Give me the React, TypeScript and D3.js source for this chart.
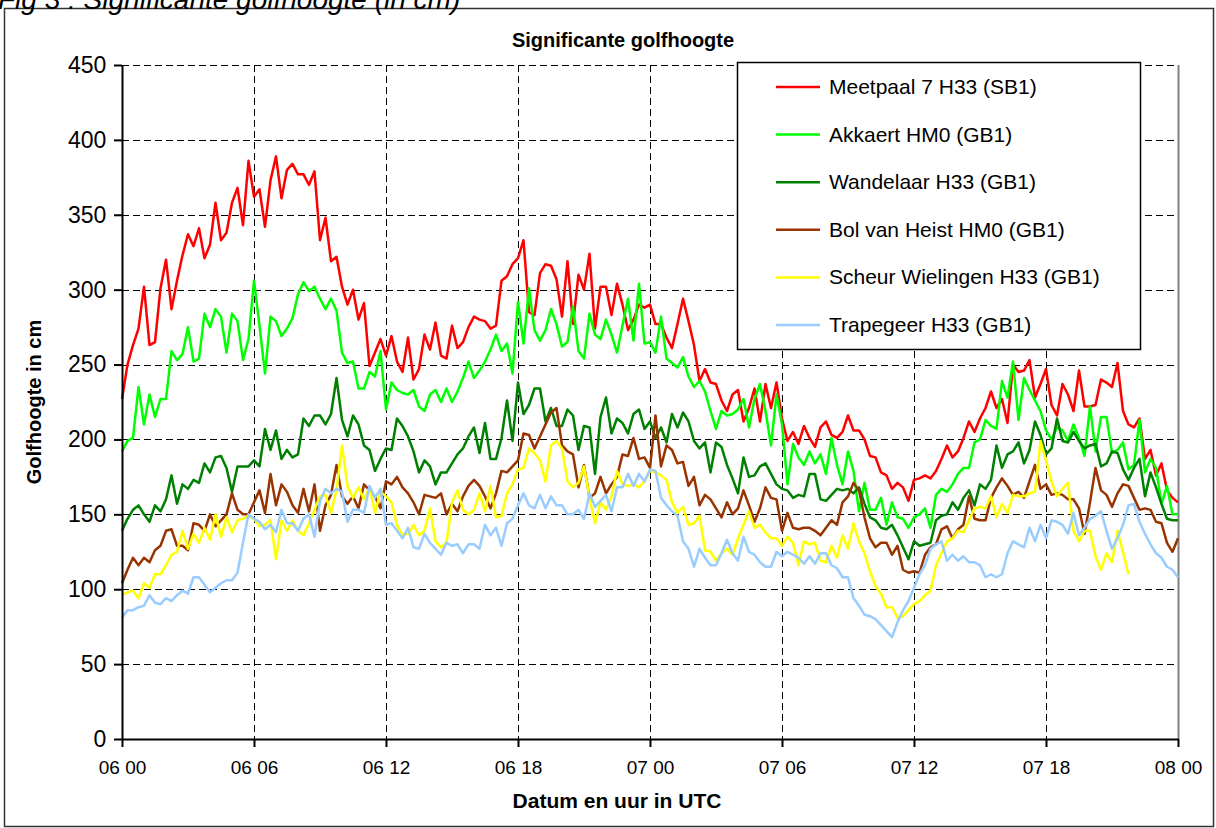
import { useEffect, useRef } from "react";
import * as d3 from "d3";

// quarter-hour samples, 06 00 -> 08 00
const meetpaal = [
  227, 250, 263, 274, 302, 263, 265, 301, 320, 287, 306, 323, 337, 329, 341, 321, 330, 358, 333, 338,
  358, 368, 343, 386, 362, 367, 342, 373, 389, 361, 380, 384, 377, 377, 370, 379, 333, 348, 319, 322,
  302, 290, 300, 280, 291, 249, 258, 267, 256, 269, 252, 245, 268, 240, 247, 270, 260, 278, 256, 254,
  276, 261, 265, 275, 282, 280, 279, 274, 276, 306, 309, 317, 321, 333, 285, 283, 311, 317, 316, 307,
  282, 319, 277, 310, 300, 324, 274, 302, 302, 283, 304, 290, 273, 280, 290, 288, 290, 277, 277, 268,
  261, 277, 294, 279, 263, 239, 247, 238, 237, 226, 219, 230, 233, 212, 221, 234, 212, 237, 221, 238,
  214, 199, 205, 197, 209, 201, 195, 208, 212, 203, 201, 205, 216, 206, 206, 200, 189, 188, 178, 176,
  167, 171, 168, 159, 173, 174, 176, 174, 179, 187, 196, 188, 192, 201, 212, 205, 214, 221, 232, 221,
  227, 211, 250, 245, 246, 253, 228, 237, 247, 223, 216, 237, 230, 219, 246, 222, 222, 223, 240, 238,
  235, 251, 219, 210, 208, 214, 187, 193, 176, 184, 166, 161, 158,
];
const akkaert = [
  192, 199, 201, 235, 210, 230, 215, 227, 227, 259, 253, 257, 275, 252, 254, 284, 275, 287, 282, 258,
  284, 279, 253, 267, 306, 276, 244, 282, 279, 269, 274, 281, 297, 305, 299, 302, 294, 287, 294, 286,
  258, 251, 252, 234, 234, 245, 242, 259, 220, 238, 233, 231, 230, 233, 222, 219, 230, 233, 225, 234,
  225, 232, 241, 252, 241, 246, 252, 260, 270, 259, 264, 244, 292, 264, 301, 273, 266, 273, 287, 277,
  262, 265, 289, 259, 254, 284, 270, 267, 280, 270, 258, 276, 294, 266, 304, 264, 265, 258, 282, 254,
  251, 248, 255, 242, 235, 239, 232, 219, 207, 219, 216, 217, 220, 227, 208, 227, 237, 219, 196, 230,
  210, 170, 197, 188, 183, 192, 184, 190, 177, 201, 183, 170, 192, 179, 152, 171, 153, 153, 161, 143,
  158, 148, 147, 141, 148, 150, 154, 141, 163, 167, 165, 170, 177, 181, 181, 198, 200, 213, 209, 207,
  239, 228, 252, 213, 241, 233, 226, 219, 206, 200, 208, 206, 199, 210, 201, 189, 222, 192, 215, 215,
  191, 193, 198, 180, 183, 213, 178, 187, 181, 157, 169, 150, 150,
];
const wandelaar = [
  139, 147, 153, 156, 150, 145, 156, 152, 160, 176, 157, 170, 167, 173, 171, 184, 178, 188, 189, 181,
  165, 182, 182, 182, 186, 182, 207, 193, 206, 187, 193, 188, 190, 214, 209, 216, 216, 210, 217, 241,
  213, 202, 216, 210, 196, 193, 179, 187, 194, 193, 214, 209, 202, 192, 178, 186, 182, 170, 178, 178,
  184, 190, 194, 202, 208, 191, 211, 187, 187, 201, 226, 199, 238, 217, 223, 234, 234, 212, 221, 209,
  209, 220, 216, 193, 209, 208, 177, 215, 228, 204, 214, 211, 204, 217, 220, 207, 212, 201, 208, 198,
  217, 208, 218, 212, 199, 194, 198, 178, 198, 195, 183, 174, 164, 188, 175, 176, 182, 184, 177, 170,
  167, 166, 161, 163, 162, 177, 177, 160, 159, 163, 167, 166, 167, 164, 168, 157, 148, 146, 141, 140,
  143, 136, 128, 120, 132, 129, 130, 131, 146, 149, 150, 158, 153, 161, 166, 156, 170, 167, 173, 196,
  181, 190, 192, 198, 184, 193, 212, 203, 190, 194, 214, 199, 198, 205, 199, 194, 196, 197, 182, 184,
  192, 191, 180, 173, 181, 187, 162, 178, 168, 157, 147, 146, 146,
];
const bolVanHeist = [
  104, 113, 121, 116, 121, 118, 126, 129, 139, 140, 129, 129, 126, 144, 143, 139, 150, 142, 146, 150,
  164, 153, 150, 150, 158, 166, 151, 177, 156, 170, 165, 156, 151, 167, 152, 170, 139, 156, 163, 183,
  162, 157, 162, 154, 170, 166, 162, 154, 172, 170, 175, 168, 164, 158, 150, 163, 162, 161, 164, 150,
  157, 152, 162, 169, 173, 169, 162, 154, 164, 179, 178, 182, 186, 204, 203, 194, 202, 210, 218, 221,
  196, 192, 190, 168, 183, 161, 164, 175, 164, 170, 175, 190, 189, 201, 187, 188, 181, 216, 182, 196,
  193, 184, 185, 169, 175, 156, 163, 160, 154, 148, 158, 150, 154, 166, 156, 145, 154, 168, 161, 160,
  139, 151, 141, 140, 141, 141, 139, 136, 141, 146, 143, 158, 162, 171, 166, 148, 134, 128, 131, 131,
  123, 129, 113, 111, 112, 111, 123, 128, 130, 140, 142, 134, 140, 143, 162, 147, 146, 146, 161, 168,
  174, 169, 163, 165, 161, 172, 183, 167, 170, 163, 164, 163, 160, 160, 154, 137, 158, 181, 166, 163,
  155, 164, 170, 169, 161, 153, 154, 153, 145, 144, 131, 125, 134,
];
const scheurWielingen = [
  96, 98, 99, 94, 104, 101, 110, 110, 116, 123, 125, 139, 127, 137, 131, 141, 133, 150, 135, 148,
  138, 146, 147, 149, 147, 142, 143, 146, 120, 146, 139, 146, 139, 136, 144, 153, 162, 163, 151, 166,
  196, 169, 161, 168, 160, 168, 151, 165, 162, 158, 143, 136, 137, 143, 136, 139, 154, 132, 128, 131,
  158, 166, 153, 150, 153, 164, 152, 169, 148, 149, 164, 170, 180, 181, 194, 191, 186, 172, 196, 199,
  194, 172, 168, 171, 182, 161, 144, 158, 153, 162, 179, 170, 169, 170, 168, 172, 179, 178, 176, 173,
  158, 151, 155, 143, 144, 149, 126, 125, 119, 124, 127, 123, 134, 143, 152, 141, 143, 138, 134, 134,
  129, 135, 131, 116, 132, 130, 131, 119, 118, 129, 121, 136, 127, 144, 132, 124, 112, 102, 97, 88,
  88, 81, 82, 86, 90, 92, 96, 99, 116, 124, 132, 134, 139, 138, 146, 154, 155, 154, 162, 148,
  157, 151, 163, 162, 162, 164, 165, 199, 186, 172, 162, 167, 171, 139, 132, 139, 139, 122, 113, 124,
  118, 139, 125, 110,
];
const trapegeer = [
  81, 86, 86, 88, 89, 96, 91, 90, 94, 92, 96, 99, 97, 108, 108, 103, 98, 101, 104, 106,
  106, 111, 131, 150, 147, 145, 140, 143, 138, 153, 144, 144, 139, 147, 150, 135, 159, 167, 164, 167,
  165, 145, 153, 153, 151, 169, 161, 167, 143, 144, 139, 134, 141, 128, 127, 137, 131, 127, 123, 131,
  129, 130, 124, 130, 130, 127, 143, 136, 141, 129, 144, 147, 156, 164, 156, 154, 163, 154, 162, 156,
  156, 150, 150, 153, 147, 164, 155, 159, 163, 152, 168, 168, 177, 169, 177, 172, 180, 179, 161, 156,
  152, 149, 132, 127, 115, 127, 121, 116, 116, 124, 133, 124, 119, 135, 125, 123, 118, 115, 115, 125,
  122, 125, 123, 121, 117, 122, 117, 124, 124, 116, 114, 108, 108, 94, 89, 83, 82, 80, 76, 72,
  68, 78, 86, 92, 101, 110, 116, 127, 130, 132, 119, 123, 119, 122, 118, 118, 116, 108, 110, 108,
  110, 124, 132, 130, 128, 141, 132, 143, 134, 146, 145, 143, 137, 151, 136, 141, 147, 149, 152, 139,
  127, 134, 143, 156, 157, 145, 137, 130, 124, 121, 115, 113, 108,
];

const seriesNames = [
  "Meetpaal 7 H33 (SB1)",
  "Akkaert HM0 (GB1)",
  "Wandelaar H33 (GB1)",
  "Bol van Heist HM0 (GB1)",
  "Scheur Wielingen H33 (GB1)",
  "Trapegeer H33 (GB1)",
];
const seriesColors = ["#FF0000", "#00FF00", "#008000", "#993300", "#FFFF00", "#99CCFF"];
const seriesValues = [meetpaal, akkaert, wandelaar, bolVanHeist, scheurWielingen, trapegeer];

const xTickLabels = ["06 00", "06 06", "06 12", "06 18", "07 00", "07 06", "07 12", "07 18", "08 00"];
const yTicks = [0, 50, 100, 150, 200, 250, 300, 350, 400, 450];

const W = 1216;
const H = 828;
const marginLeft = 122;
const marginRight = 38;
const marginTop = 65;
const marginBottom = 89;
const font = "Liberation Sans, Arial, sans-serif";

export default function App() {
  const ref = useRef<SVGSVGElement>(null);

  const x = d3.scaleLinear().domain([0, 48]).range([marginLeft, W - marginRight]);
  const y = d3.scaleLinear().domain([0, 450]).range([H - marginBottom, marginTop]);

  useEffect(() => {
    const svg = d3.select(ref.current);
    svg.selectAll("*").remove();

    // outer chart border
    svg.append("rect")
      .attr("x", 4.5).attr("y", 8.5).attr("width", 1209).attr("height", 818)
      .attr("fill", "none").attr("stroke", "#333").attr("stroke-width", 1.5);

    // caption (cut off by the top edge)
    svg.append("text")
      .attr("x", -2).attr("y", 9)
      .attr("font-family", font).attr("font-style", "italic").attr("font-size", 28)
      .text("Fig 3 : Significante golfhoogte (in cm)");

    // gridlines
    const grid = svg.append("g").attr("stroke", "#000").attr("stroke-width", 1).attr("stroke-dasharray", "7,4");
    yTicks.slice(1).forEach((t) => {
      grid.append("line")
        .attr("x1", marginLeft).attr("x2", W - marginRight)
        .attr("y1", Math.round(y(t)) + 0.5).attr("y2", Math.round(y(t)) + 0.5);
    });
    xTickLabels.forEach((_, i) => {
      if (i === 0 || i === xTickLabels.length - 1) return;
      grid.append("line")
        .attr("x1", Math.round(x(i * 6)) + 0.5).attr("x2", Math.round(x(i * 6)) + 0.5)
        .attr("y1", marginTop).attr("y2", H - marginBottom);
    });

    // right edge of plot area
    svg.append("line")
      .attr("x1", W - marginRight + 0.5).attr("x2", W - marginRight + 0.5)
      .attr("y1", marginTop).attr("y2", H - marginBottom)
      .attr("stroke", "#808080").attr("stroke-width", 2);

    // lines
    const line = d3.line<number>()
      .x((_, i) => x(i * 0.25))
      .y((d) => y(d));
    seriesValues.forEach((vals, k) => {
      svg.append("path")
        .datum(vals)
        .attr("d", line)
        .attr("fill", "none")
        .attr("stroke", seriesColors[k])
        .attr("stroke-width", 2.5)
        .attr("stroke-linejoin", "round");
    });

    // axes
    const yAxis = d3.axisLeft(y).tickValues(yTicks).tickSize(8).tickSizeOuter(0);
    const gy = svg.append("g").attr("transform", `translate(${marginLeft},0)`).call(yAxis);
    gy.selectAll("text").attr("font-size", 23).attr("font-family", font).attr("dx", "-0.2em").attr("fill", "#000");
    gy.selectAll("line, path").attr("stroke", "#000").attr("stroke-width", 2);

    const xAxis = d3.axisBottom(x)
      .tickValues(xTickLabels.map((_, i) => i * 6))
      .tickFormat((_, i) => xTickLabels[i])
      .tickSize(8).tickSizeOuter(0);
    const gx = svg.append("g").attr("transform", `translate(0,${H - marginBottom})`).call(xAxis);
    gx.selectAll("text").attr("font-size", 19).attr("font-family", font).attr("dy", "1.25em").attr("fill", "#000");
    gx.selectAll("line, path").attr("stroke", "#000").attr("stroke-width", 2);

    // titles
    svg.append("text")
      .attr("x", 623).attr("y", 47)
      .attr("text-anchor", "middle").attr("font-family", font).attr("font-weight", "bold").attr("font-size", 20)
      .text("Significante golfhoogte");
    svg.append("text")
      .attr("x", 617).attr("y", 808)
      .attr("text-anchor", "middle").attr("font-family", font).attr("font-weight", "bold").attr("font-size", 21)
      .text("Datum en uur in UTC");
    svg.append("text")
      .attr("transform", `translate(41,${(marginTop + H - marginBottom) / 2}) rotate(-90)`)
      .attr("text-anchor", "middle").attr("font-family", font).attr("font-weight", "bold").attr("font-size", 20)
      .text("Golfhoogte in cm");

    // legend
    const lg = svg.append("g");
    lg.append("rect")
      .attr("x", 737.5).attr("y", 62.5).attr("width", 403).attr("height", 287)
      .attr("fill", "#fff").attr("stroke", "#000").attr("stroke-width", 1.5);
    seriesNames.forEach((name, k) => {
      const cy = 87 + k * 47.6;
      lg.append("line")
        .attr("x1", 776).attr("x2", 820).attr("y1", cy).attr("y2", cy)
        .attr("stroke", seriesColors[k]).attr("stroke-width", 2.5);
      lg.append("text")
        .attr("x", 829).attr("y", cy + 7)
        .attr("font-family", font).attr("font-size", 21)
        .text(name);
    });
  }, []);

  return (
    <svg
      ref={ref}
      width={W}
      height={H}
      viewBox={`0 0 ${W} ${H}`}
      style={{ position: "absolute", left: 0, top: 0, background: "#fff" }}
    />
  );
}
